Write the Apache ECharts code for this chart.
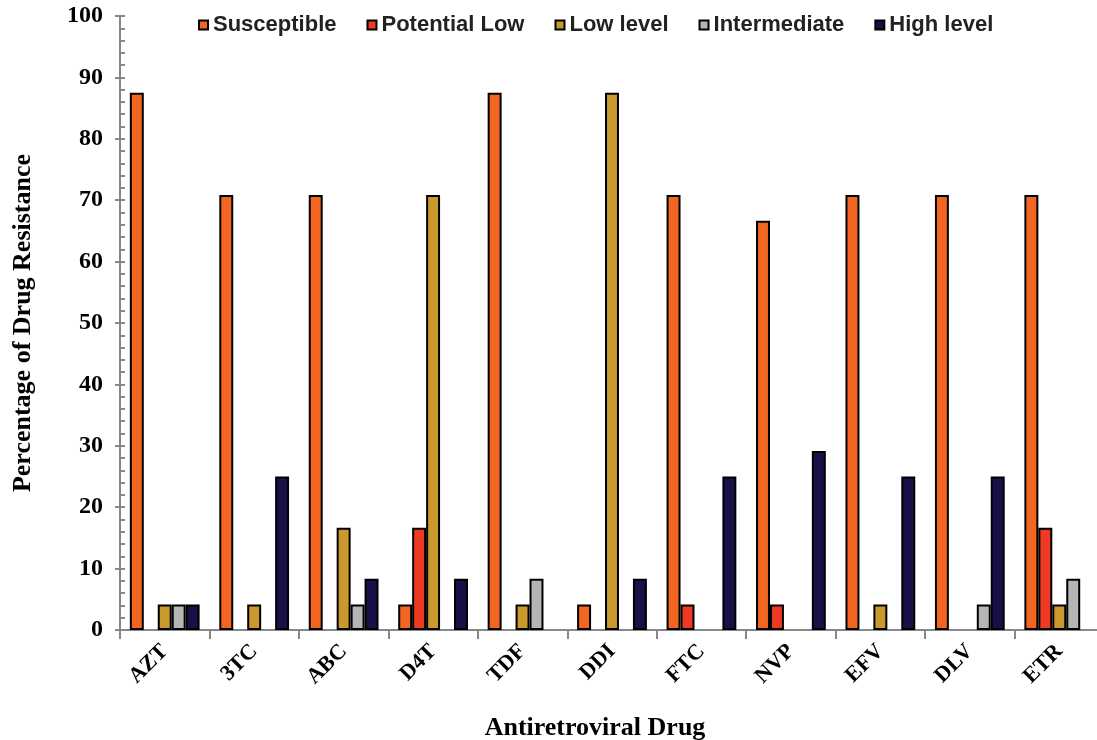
<!DOCTYPE html>
<html><head><meta charset="utf-8">
<script src="https://cdn.jsdelivr.net/npm/echarts@6/dist/echarts.min.js"></script>
<style>html,body{margin:0;padding:0;background:#fff}#c{width:1097px;height:740px}</style>
</head><body><div id="c"></div>
<script>
const categories = ['AZT','3TC','ABC','D4T','TDF','DDI','FTC','NVP','EFV','DLV','ETR'];
const susceptible  = [87.5, 70.83, 70.83, 4.17, 87.5, 4.17, 70.83, 66.67, 70.83, 70.83, 70.83];
const potentialLow = [0, 0, 0, 16.67, 0, 0, 4.17, 4.17, 0, 0, 16.67];
const lowLevel     = [4.17, 4.17, 16.67, 70.83, 4.17, 87.5, 0, 0, 4.17, 0, 4.17];
const intermediate = [4.17, 0, 4.17, 0, 8.33, 0, 0, 0, 0, 4.17, 8.33];
const highLevel    = [4.17, 25, 8.33, 8.33, 0, 8.33, 25, 29.17, 25, 25, 0];
const seriesNames  = ['Susceptible','Potential Low','Low level','Intermediate','High level'];
const seriesColors = ['#F26522','#EE3A24','#C9992E','#B5B5B5','#1A1048'];
const yTicks = [0,10,20,30,40,50,60,70,80,90,100];

const serif = '"Liberation Serif","Times New Roman",serif';
const values = [susceptible, potentialLow, lowLevel, intermediate, highLevel];
const chart = echarts.init(document.getElementById('c'));
chart.setOption({
  animation: false,
  legend: {
    top: 9, left: 193, itemWidth: 9, itemHeight: 9, itemGap: 30,
    icon: 'rect',
    textStyle: {fontFamily: '"Liberation Sans",Arial,sans-serif', fontWeight: 'bold', fontSize: 22, color: '#222'},
    data: seriesNames
  },
  grid: {left: 120, top: 16, width: 984, height: 614, outerBoundsMode: 'none', containLabel: false},
  xAxis: {
    type: 'category', data: categories,
    axisLine: {lineStyle: {color: '#888', width: 2}},
    axisTick: {show: true, length: 9, lineStyle: {color: '#888', width: 2}},
    axisLabel: {rotate: 45, fontFamily: serif, fontWeight: 'bold', fontSize: 22, color: '#000', margin: 18},
    name: 'Antiretroviral Drug', nameLocation: 'middle', nameGap: 85,
    nameTextStyle: {fontFamily: serif, fontWeight: 'bold', fontSize: 26, color: '#000', padding: [0, 34, 0, 0]}
  },
  yAxis: [{
    type: 'value', min: 0, max: 100, interval: 10,
    axisLine: {show: true, lineStyle: {color: '#888', width: 2}},
    axisTick: {show: true, length: 5, lineStyle: {color: '#888', width: 2}},
    splitLine: {show: false},
    axisLabel: {fontFamily: serif, fontWeight: 'bold', fontSize: 24, color: '#000', margin: 17,
      formatter: v => yTicks.includes(v) ? String(v) : ''},
    name: 'Percentage of Drug Resistance', nameLocation: 'middle', nameGap: 84,
    nameTextStyle: {fontFamily: serif, fontWeight: 'bold', fontSize: 26, color: '#000'}
  },{
    type: 'value', min: 0, max: 100, interval: 10, position: 'left',
    axisLine: {show: false},
    axisTick: {show: true, inside: true, length: 5, lineStyle: {color: '#888', width: 2}},
    minorTick: {show: true, splitNumber: 5, length: 5, lineStyle: {color: '#888', width: 2}},
    splitLine: {show: false}, axisLabel: {show: false}
  }],
  series: seriesNames.map((n, i) => ({
    name: n, type: 'bar', data: values[i].map(v => v === 0 ? '-' : v), yAxisIndex: 0,
    barGap: '0%', barCategoryGap: '22%',
    itemStyle: {color: seriesColors[i], borderColor: '#000', borderWidth: 2}
  }))
});
</script></body></html>
